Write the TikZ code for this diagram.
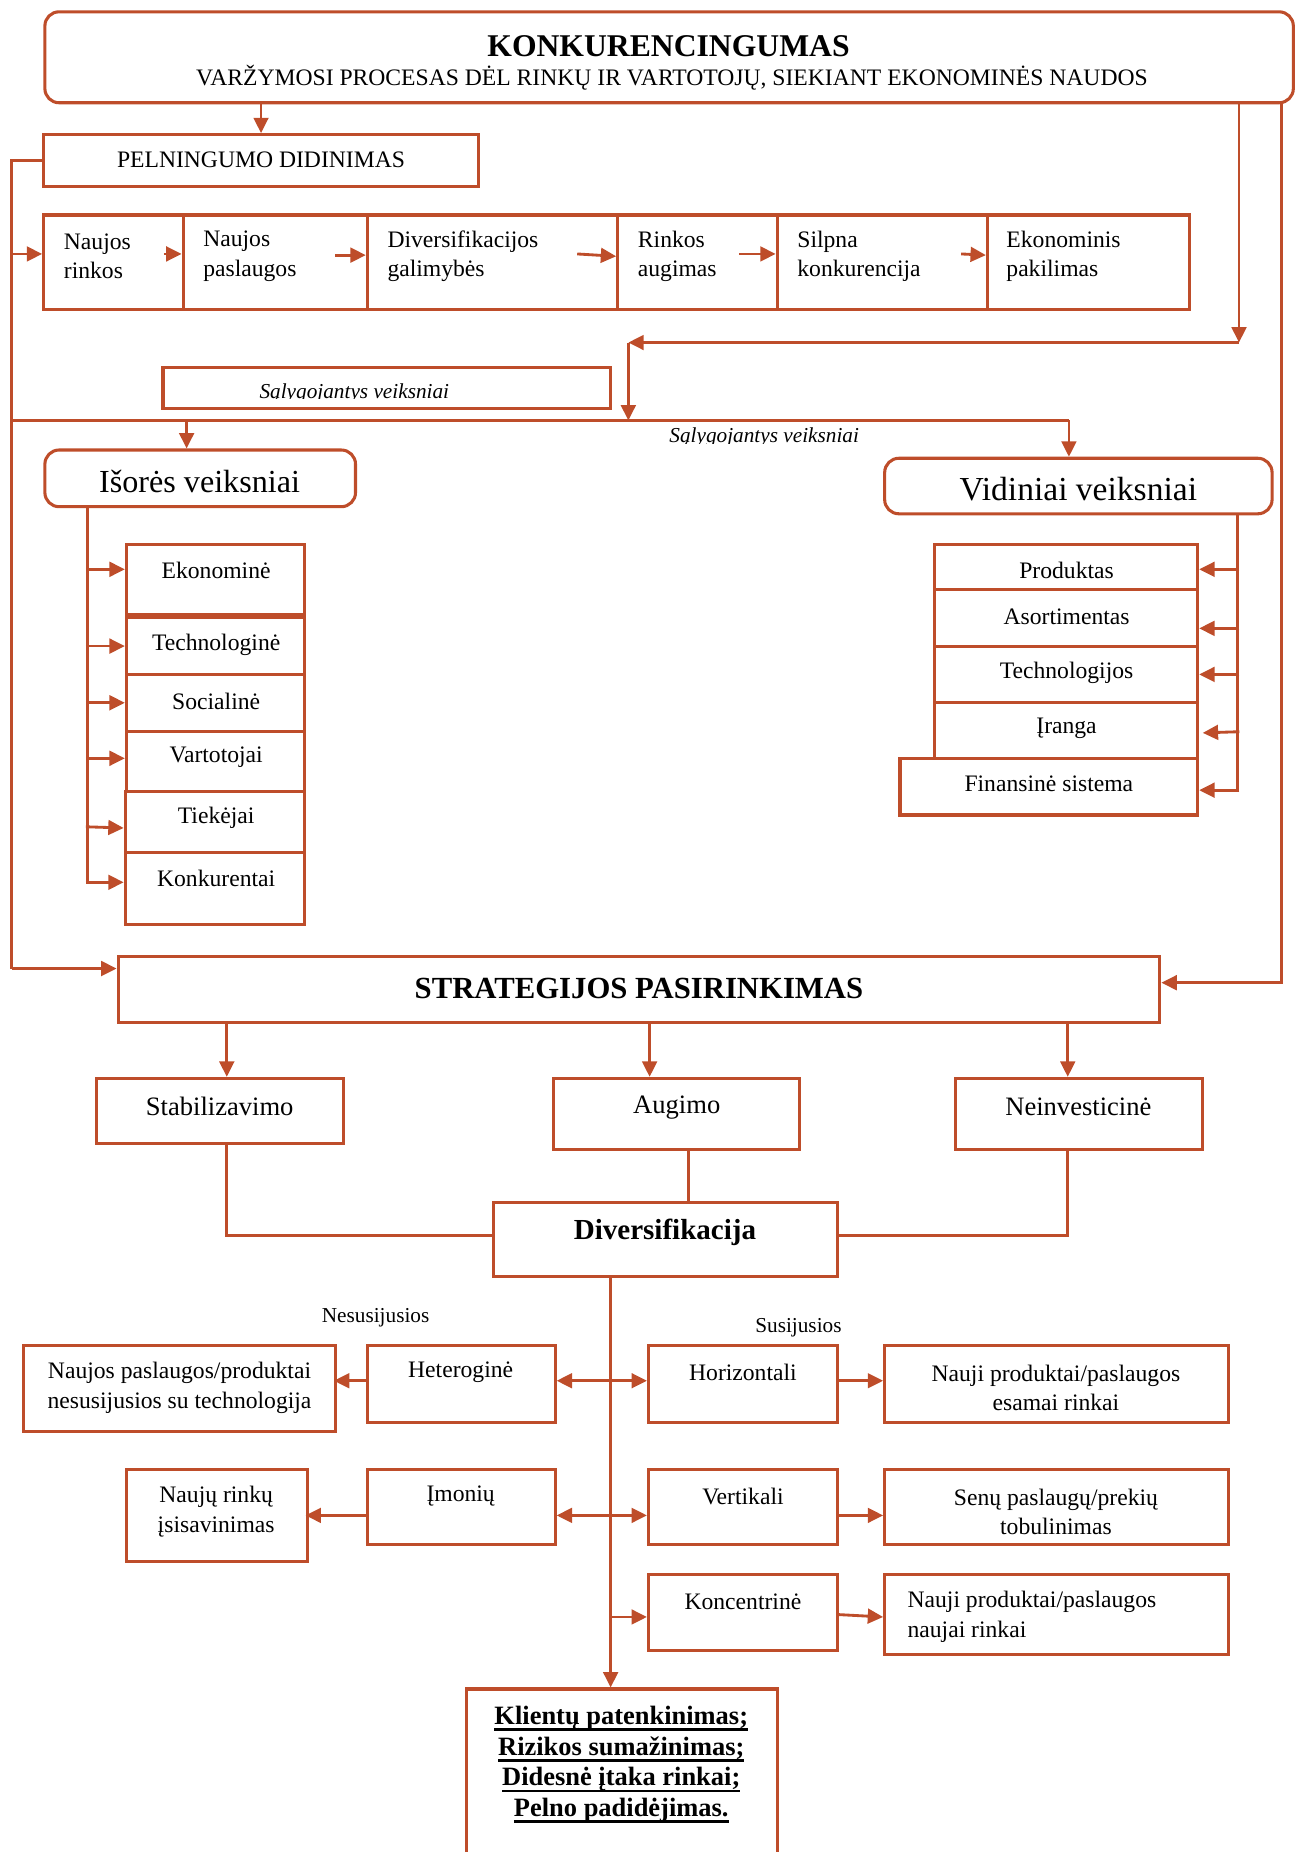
\documentclass[tikz,border=0pt]{standalone}
\usepackage{fontspec}
\setmainfont{Liberation Serif}
\usetikzlibrary{arrows.meta,fit,calc}
\definecolor{rust}{RGB}{190,77,42}
% thick underline used in the result box
\newcommand\ulthick[1]{\leavevmode\setbox0\hbox{#1}\rlap{\vrule height -1.6pt depth 2.7pt width \wd0}\box0}
\begin{document}
\begin{tikzpicture}[x=0.5pt,y=-0.5pt,
  box/.style={draw=rust,line width=1.3pt,inner sep=0pt,fit={#1}},
  rbox/.style={box={#1},rounded corners=6pt},
  conn/.style={draw=rust,line width=1.2pt},
  arr/.style={conn,-{Triangle[length=6.5pt,width=6.2pt]}},
  darr/.style={conn,{Triangle[length=6.5pt,width=6.2pt]}-{Triangle[length=6.5pt,width=6.2pt]}},
  t/.style={inner sep=0pt,align=center,font=\fontsize{10}{12.5}\selectfont},
  tl/.style={inner sep=0pt,align=left,font=\fontsize{10}{12.5}\selectfont},
  small/.style={inner sep=0pt,font=\fontsize{9}{11}\selectfont},
  mid/.style={inner sep=0pt,font=\fontsize{11.25}{13.5}\selectfont},
  big/.style={inner sep=0pt,font=\fontsize{13.6}{16}\selectfont},
]
\path[use as bounding box,clip] (0,0) rectangle (1102,1568);

% ---------- header ----------
\node[rbox={(38,10) (1095,87)}] (top) {};
\node[inner sep=0pt,font=\fontsize{13.4}{16}\selectfont\bfseries] (ttl) at (566,39) {KONKURENCINGUMAS};
\node[t] (sub) at (569,66) {VARŽYMOSI PROCESAS DĖL RINKŲ IR VARTOTOJŲ, SIEKIANT EKONOMINĖS NAUDOS};

\node[box={(37,114) (405,158)}] (peln) {};
\node[t] at (221,135) {PELNINGUMO DIDINIMAS};
\draw[arr] (peln.north |- top.south) -- (peln.north);

% ---------- chain of effects ----------
\node[box={(37,182) (155,262)}] (r1) {};
\node[box={(155,182) (311,262)}] (r2) {};
\node[box={(311,182) (523,262)}] (r3) {};
\node[box={(523,182) (658,262)}] (r4) {};
\node[box={(658,182) (836,262)}] (r5) {};
\node[box={(836,182) (1007,262)}] (r6) {};
\node[tl,anchor=west] at ($(r1.west)+(18,-5)$) {Naujos\\rinkos};
\node[tl,anchor=west] at ($(r2.west)+(18,-5)$) {Naujos\\paslaugos};
\node[tl,anchor=west] at ($(r3.west)+(18,-5)$) {Diversifikacijos\\galimybės};
\node[tl,anchor=west] at ($(r4.west)+(18,-5)$) {Rinkos\\augimas};
\node[tl,anchor=west] at ($(r5.west)+(18,-5)$) {Silpna\\konkurencija};
\node[tl,anchor=west] at ($(r6.west)+(17,-5)$) {Ekonominis\\pakilimas};
\draw[arr] ($(r2.west)+(-15,-7)$) -- ($(r2.west)+(0,-7)$);
\draw[arr] ($(r3.west)+(-26,-6)$) -- ($(r3.west)+(0,-6)$);
\draw[arr] ($(r4.west)+(-33,-7)$) -- ($(r4.west)+(0,-5)$);
\draw[arr] ($(r5.west)+(-31,-7)$) -- ($(r5.west)+(0,-7)$);
\draw[arr] ($(r6.west)+(-21,-7)$) -- ($(r6.west)+(0,-6)$);

% ---------- left bus ----------
\coordinate (lb1) at (10,136);
\coordinate (lb2) at (10,820);
\coordinate (la) at (10,215);
\draw[conn] (peln.west) -- (lb1) -- (lb2);
\draw[arr] (la) -- (la -| r1.west);

% ---------- conditioning factors ----------
\node[box={(138,311) (517,346)}] (salb) {};
\begin{scope}
  \clip (140,313) rectangle (515,337.5);
  \node[small,anchor=base,font=\fontsize{9}{11}\selectfont\itshape] at (300,337) {Sąlygojantys veiksniai};
\end{scope}
\begin{scope}
  \clip (555,358) rectangle (745,375.5);
  \node[small,anchor=base,font=\fontsize{9}{11}\selectfont\itshape] at (647,375) {Sąlygojantys veiksniai};
\end{scope}

\coordinate (b2l) at (10,356);
\coordinate (b2r) at (905,356);
\coordinate (b2a) at (158,356);
\draw[conn] (b2l) -- (b2r);

% right feed from the header
\coordinate (rA) at (1049,290);
\coordinate (rB) at (532,290);
\coordinate (rC) at (532,356);
\draw[arr] (top.south -| rA) -- (rA);
\draw[arr] (rA) -- (rB);
\draw[arr] (rB) -- (rC);

% ---------- external factors ----------
\node[rbox={(38,381) (301,429)}] (iso) {};
\node[big] at (169,408) {Išorės veiksniai};
\draw[arr] (b2a) -- (b2a |- iso.north);

\node[box={(107,461) (258,520)}] (ek) {};
\node[box={(107,523) (258,571)}] (tech) {};
\node[box={(107,571) (258,619)}] (soc) {};
\node[box={(107,619) (258,670)}] (vart) {};
\node[box={(106,670) (258,722)}] (tiek) {};
\node[box={(106,722) (258,783)}] (konk) {};
\node[t] at (183,483) {Ekonominė};
\node[t] at (183,546) {Technologinė};
\node[t] at (183,594) {Socialinė};
\node[t] at (183,641) {Vartotojai};
\node[t] at (183,692) {Tiekėjai};
\node[t] at (183,744) {Konkurentai};
\coordinate (lc) at (74,747);
\draw[conn] (iso.south -| lc) -- (lc);
\draw[arr] ($(ek.west)+(-33,-8.5)$) -- ($(ek.west)+(0,-8.5)$);
\draw[arr] ($(tech.west)+(-33,0)$) -- (tech.west);
\draw[arr] ($(soc.west)+(-33,0)$) -- (soc.west);
\draw[arr] ($(vart.west)+(-33,-2.5)$) -- ($(vart.west)+(0,-2.5)$);
\draw[arr] ($(tiek.west)+(-32,4)$) -- ($(tiek.west)+(0,5)$);
\draw[arr] ($(konk.west)+(-32,-5.5)$) -- ($(konk.west)+(0,-5.5)$);

% ---------- internal factors ----------
\node[rbox={(749,388) (1077,435)}] (vid) {};
\node[big,font=\fontsize{14.2}{17}\selectfont] at (913,414) {Vidiniai veiksniai};
\draw[arr] (b2r) -- (b2r |- vid.north);

\node[box={(791,461) (1014,499)}] (prod) {};
\node[box={(791,499) (1014,547)}] (asort) {};
\node[box={(791,547) (1014,595)}] (techj) {};
\node[box={(791,595) (1014,642)}] (iranga) {};
\node[box={(762,642) (1014,690)}] (fin) {};
\node[t] at (903,483) {Produktas};
\node[t] at (903,522) {Asortimentas};
\node[t] at (903,570) {Technologijos};
\node[t] at (903,617) {Įranga};
\node[t] at (888,664) {Finansinė sistema};
\coordinate (rc) at (1048,670);
\draw[conn] (vid.south -| rc) -- (rc);
\draw[arr] ($(prod.east)+(34,2)$) -- ($(prod.east)+(0,2)$);
\draw[arr] ($(asort.east)+(34,9)$) -- ($(asort.east)+(0,9)$);
\draw[arr] ($(techj.east)+(34,0)$) -- (techj.east);
\draw[arr] ($(iranga.east)+(34,1)$) -- ($(iranga.east)+(3,2)$);
\draw[arr] ($(fin.east)+(34,3)$) -- ($(fin.east)+(0,3)$);

% ---------- strategy choice ----------
\node[box={(100,810) (982,866)}] (strat) {};
\node[inner sep=0pt,font=\fontsize{13}{16}\selectfont\bfseries] at (541,837) {STRATEGIJOS PASIRINKIMAS};
\draw[arr] (lb2) -- (lb2 -| strat.west);
\coordinate (fr) at (1085,832);
\draw[arr] (top.south -| fr) -- (fr) -- (fr -| strat.east);

\node[box={(82,913) (291,968)}] (stab) {};
\node[box={(469,913) (677,973)}] (aug) {};
\node[box={(809,913) (1018,973)}] (neinv) {};
\node[mid] at (186,937) {Stabilizavimo};
\node[mid] at (573,938) {Augimo};
\node[mid] at (913,937) {Neinvesticinė};
\coordinate (sa) at (192,866);
\coordinate (sb) at (550,866);
\coordinate (sc) at (904,866);
\draw[arr] (sa) -- (sa |- stab.north);
\draw[arr] (sb) -- (sb |- aug.north);
\draw[arr] (sc) -- (sc |- neinv.north);

% ---------- diversification ----------
\node[box={(418,1018) (709,1081)}] (div) {};
\node[inner sep=0pt,font=\fontsize{12.3}{15}\selectfont\bfseries] at (563,1043) {Diversifikacija};
\coordinate (d1) at (192,1046);
\coordinate (d2) at (583,1018);
\coordinate (d3) at (904,1046);
\draw[conn] (stab.south -| d1) -- (d1) -- (d1 -| div.west);
\draw[conn] (aug.south -| d2) -- (d2);
\draw[conn] (neinv.south -| d3) -- (d3) -- (d3 -| div.east);

\node[small] at (318,1116) {Nesusijusios};
\node[small] at (676,1124) {Susijusios};

\node[box={(20,1139) (284,1212)}] (npp) {};
\node[box={(311,1139) (470,1204)}] (het) {};
\node[box={(549,1139) (709,1204)}] (hor) {};
\node[box={(749,1139) (1040,1204)}] (nesam) {};
\node[t] at (152,1175) {Naujos paslaugos/produktai\\nesusijusios su technologija};
\node[t] at (390,1162) {Heteroginė};
\node[t] at (629,1162) {Horizontali};
\node[t] at (894,1175) {Nauji produktai/paslaugos\\esamai rinkai};

\node[box={(107,1244) (260,1322)}] (nri) {};
\node[box={(311,1244) (470,1308)}] (imon) {};
\node[box={(549,1244) (709,1308)}] (vert) {};
\node[box={(749,1244) (1040,1308)}] (senu) {};
\node[t] at (183,1280) {Naujų rinkų\\įsisavinimas};
\node[t] at (390,1267) {Įmonių};
\node[t] at (629,1267) {Vertikali};
\node[t] at (894,1280) {Senų paslaugų/prekių\\tobulinimas};

\node[box={(549,1333) (709,1397)}] (konc) {};
\node[box={(749,1333) (1040,1401)}] (naujr) {};
\node[t] at (629,1356) {Koncentrinė};
\node[tl,anchor=west] at (768,1369) {Nauji produktai/paslaugos\\naujai rinkai};

\draw[arr] ($(het.west)+(0,-2.5)$) -- ($(het.west)+(-27,-2.5)$);
\draw[darr] ($(het.east)+(0,-2.5)$) -- ($(hor.west)+(0,-2.5)$);
\draw[arr] ($(hor.east)+(0,-2.5)$) -- ($(nesam.west)+(0,-2.5)$);
\draw[arr] ($(imon.west)+(0,7)$) -- ($(imon.west)+(-51,7)$);
\draw[darr] ($(imon.east)+(0,7)$) -- ($(vert.west)+(0,7)$);
\draw[arr] ($(vert.east)+(0,7)$) -- ($(senu.west)+(0,7)$);
\draw[arr] ($(konc.west)+(-32,4)$) -- ($(konc.west)+(0,4)$);
\draw[arr] ($(konc.east)+(0,2)$) -- ($(naujr.west)+(0,2)$);

% ---------- outcome ----------
\node[box={(395,1430) (658,1600)}] (kl) {};
\coordinate (sp) at (517,1081);
\draw[arr] (div.south -| sp) -- (kl.north -| sp);
\node[inner sep=0pt,align=center,font=\fontsize{11.2}{13}\selectfont\bfseries] at (526,1494)
  {\ulthick{Klientų patenkinimas;}\\\ulthick{Rizikos sumažinimas;}\\\ulthick{Didesnė įtaka rinkai;}\\\ulthick{Pelno padidėjimas.}};
\end{tikzpicture}
\end{document}
